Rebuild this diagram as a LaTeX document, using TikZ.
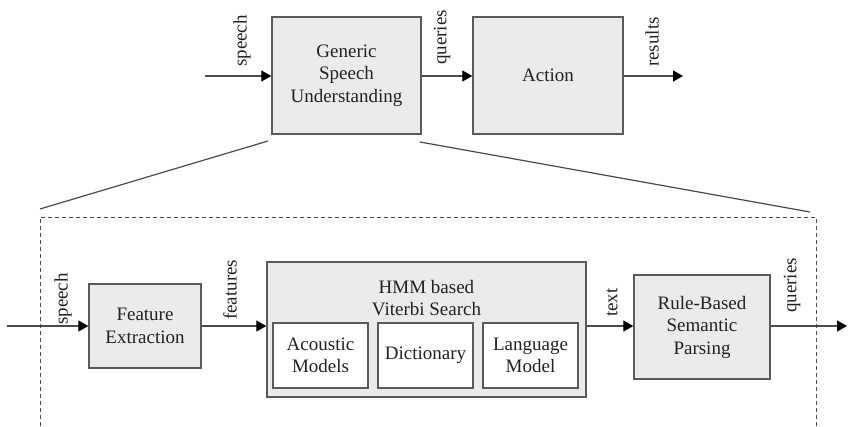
\documentclass[tikz,border=0pt]{standalone}
\usepackage{fontspec}
\setmainfont{Liberation Serif}
\usetikzlibrary{arrows.meta}
\definecolor{boxfill}{HTML}{EBEBEB}
\definecolor{boxline}{HTML}{5A5A5A}
\definecolor{wireline}{HTML}{4A4A4A}
\definecolor{inkgray}{HTML}{222222}
\begin{document}
\begin{tikzpicture}[x=1pt,y=-1pt,
  font=\fontsize{19}{22.5}\selectfont,
  text=inkgray,
  block/.style={draw=boxline,line width=1.4pt,fill=boxfill,align=center,
    inner sep=0pt,minimum width=#1},
  subblock/.style={draw=boxline,line width=1.4pt,fill=white,align=center,
    inner sep=0pt,minimum width=95pt,minimum height=65pt},
  flow/.style={draw=wireline,line width=1.3pt,
    -{Triangle[length=10pt,width=11pt]},arrows={[color=black]}},
  vlabel/.style={rotate=90,anchor=west,inner sep=0pt},
  zoomline/.style={draw=wireline,line width=1.2pt},
  frame/.style={draw=wireline,line width=1pt,dash pattern=on 4pt off 3pt}]
\useasboundingbox (0,0) rectangle (848,426);

% top level: generic system
\node[block=149pt,minimum height=117pt] (gsu) at (346.5,75.5)
  {Generic\\Speech\\Understanding};
\node[block=150pt,minimum height=117pt] (act) at (548,75.5) {Action};
\coordinate (tin) at (205,76);
\coordinate (tout) at (683,76);
\draw[flow] (tin) -- (tin -| gsu.west);
\draw[flow] (gsu.east |- tin) -- (tin -| act.west);
\draw[flow] (act.east |- tin) -- (tout);
\node[vlabel] (l1) at (242,67) {speech};
\node[vlabel] (l2) at (442,65) {queries};
\node[vlabel] (l3) at (652,67) {results};

% expansion lines and dashed frame
\coordinate (zl0) at (268,141);
\coordinate (zl1) at (40,209);
\coordinate (zr0) at (420,142);
\coordinate (zr1) at (810,212);
\draw[zoomline] (zl0) -- (zl1);
\draw[zoomline] (zr0) -- (zr1);
\coordinate (f1) at (40,426);
\coordinate (f2) at (40,217);
\coordinate (f3) at (816,217);
\coordinate (f4) at (816,426);
\draw[frame] (f1) -- (f2) -- (f3) -- (f4);

% detailed pipeline
\node[block=112pt,minimum height=84pt] (fe) at (145,326)
  {Feature\\Extraction};
\node[block=319pt,minimum height=135pt] (hmm) at (426.5,329.5) {};
\node[align=center,inner sep=0pt] (hmmt) at (426.5,298)
  {HMM based\\Viterbi Search};
\node[subblock] (am) at (320.5,355.5) {Acoustic\\Models};
\node[subblock] (dic) at (425.5,355.5) {Dictionary};
\node[subblock] (lm) at (530.5,355.5) {Language\\Model};
\node[block=136pt,minimum height=104pt] (rb) at (702,327)
  {Rule-Based\\Semantic\\Parsing};

\coordinate (bin) at (7,326);
\coordinate (bout) at (847,326);
\draw[flow] (bin) -- (bin -| fe.west);
\draw[flow] (fe.east |- bin) -- (bin -| hmm.west);
\draw[flow] (hmm.east |- bin) -- (bin -| rb.west);
\draw[flow] (rb.east |- bin) -- (bout);
\node[vlabel] (b1) at (63,325) {speech};
\node[vlabel] (b2) at (230,320) {features};
\node[vlabel] (b3) at (612,317) {text};
\node[vlabel] (b4) at (792,313) {queries};
\end{tikzpicture}
\end{document}
